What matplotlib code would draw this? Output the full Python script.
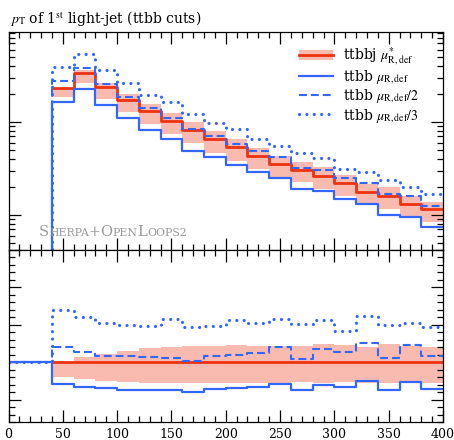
import numpy as np
import matplotlib
matplotlib.use("Agg")
import matplotlib.pyplot as plt
from matplotlib.lines import Line2D
from matplotlib.patches import Patch
from matplotlib.ticker import MultipleLocator, LogLocator, NullFormatter
from matplotlib.offsetbox import TextArea, HPacker, AnnotationBbox

plt.rcParams['font.family'] = ['DejaVu Serif']
plt.rcParams['mathtext.fontset'] = 'stix'

# pT bin edges (GeV), 20 GeV bins starting at 0
edges = np.arange(0, 420, 20)

# d(sigma)/dpT per bin; first two bins are empty
ttbbj_ref = [0, 0, 2.30, 3.39, 2.36, 1.73, 1.31, 1.03, 0.820, 0.652, 0.535,
             0.431, 0.353, 0.305, 0.262, 0.219, 0.178, 0.160, 0.131, 0.115]
ttbbj_lo = [0, 0, 1.84, 2.61, 1.77, 1.27, 0.950, 0.742, 0.590, 0.469, 0.385,
            0.312, 0.256, 0.224, 0.190, 0.161, 0.129, 0.116, 0.0963, 0.0834]
ttbbj_hi = [0, 0, 2.30, 3.63, 2.63, 1.99, 1.55, 1.24, 0.992, 0.795, 0.658,
            0.522, 0.431, 0.369, 0.325, 0.268, 0.214, 0.198, 0.160, 0.139]
ttbb_mu = [0, 0, 1.633, 2.271, 1.534, 1.090, 0.825, 0.649, 0.492, 0.417, 0.348,
           0.287, 0.251, 0.192, 0.182, 0.147, 0.132, 0.101, 0.0956, 0.0736]
ttbb_mu2 = [0, 0, 2.76, 3.83, 2.57, 1.87, 1.40, 1.09, 0.836, 0.704, 0.583,
            0.483, 0.424, 0.317, 0.307, 0.250, 0.223, 0.170, 0.161, 0.124]
ttbb_mu3 = [0, 0, 3.89, 5.42, 3.61, 2.60, 1.95, 1.62, 1.21, 0.965, 0.840,
            0.659, 0.558, 0.461, 0.411, 0.311, 0.287, 0.240, 0.199, 0.169]

x_ticks = [0, 50, 100, 150, 200, 250, 300, 350, 400]

RED = '#EE3311'
BLUE = '#3366FF'

ref = np.array(ttbbj_ref)
filled = ref > 0


def ratio(vals):
    vals = np.array(vals, dtype=float)
    out = np.ones_like(vals)
    out[filled] = vals[filled] / ref[filled]
    return out


def step_xy(e, vals):
    # outline of a histogram, from left edge to right edge
    xs = np.repeat(e, 2)[1:-1]
    ys = np.repeat(np.asarray(vals, dtype=float), 2)
    return xs, ys


fig = plt.figure(figsize=(4.54, 4.40), dpi=100)
W, H = 454.0, 440.0
x0, x1 = 8.5, 443.0
ax = fig.add_axes([x0 / W, 1 - 250 / H, (x1 - x0) / W, (250 - 32.3) / H])
axr = fig.add_axes([x0 / W, 1 - 422 / H, (x1 - x0) / W, (422 - 250) / H], sharex=ax)

blue_styles = [
    (ttbb_mu, dict(lw=1.6, ls='-')),
    (ttbb_mu2, dict(lw=1.5, ls=(0, (3.8, 1.9)))),
    (ttbb_mu3, dict(lw=2.3, ls=(0, (0.01, 2.3)), dash_capstyle='round')),
]

# main panel
e = edges[filled.nonzero()[0][0]:]
lo = np.array(ttbbj_lo)[filled]
hi = np.array(ttbbj_hi)[filled]
ax.stairs(hi, e, baseline=lo, fill=True, color=RED, alpha=0.33, lw=0)
ax.plot(*step_xy(e, ref[filled]), color=RED, lw=2.0)
for vals, st in blue_styles:
    ax.plot(*step_xy(edges, vals), color=BLUE, **st)

ax.set_yscale('log')
ax.set_xlim(0, 400)
ax.set_ylim(0.0420, 9.21)
ax.yaxis.set_major_locator(LogLocator(base=10))
ax.yaxis.set_minor_locator(LogLocator(base=10, subs=np.arange(2, 10)))
ax.yaxis.set_minor_formatter(NullFormatter())
ax.tick_params(labelbottom=False, labelleft=False)

# ratio panel
rb_lo = lo / ref[filled]
rb_hi = hi / ref[filled]
axr.stairs(rb_hi, e, baseline=rb_lo, fill=True, color=RED, alpha=0.33, lw=0)
axr.plot(*step_xy(e, np.ones(filled.sum())), color=RED, lw=2.0)
for vals, st in blue_styles:
    axr.plot(*step_xy(edges, ratio(vals)), color=BLUE, **st)

axr.set_ylim(0.2, 2.5)
axr.yaxis.set_major_locator(MultipleLocator(0.5))
axr.yaxis.set_minor_locator(MultipleLocator(0.1))
axr.set_xticks(x_ticks)
axr.xaxis.set_minor_locator(MultipleLocator(10))
axr.tick_params(labelleft=False, labelsize=9)

for a in (ax, axr):
    a.tick_params(which='both', direction='in', top=True, right=True, width=0.9)
    a.tick_params(which='major', length=8.8)
    a.tick_params(which='minor', length=4.3)
    for s in a.spines.values():
        s.set_linewidth(0.9)
axr.tick_params(axis='x', pad=4)

ax.set_title(r'$p_\mathrm{T}$ of 1$^\mathrm{st}$ light-jet (ttbb cuts)',
             loc='left', fontsize=10, pad=7, x=0.003)

# legend
h_ref = (Patch(facecolor=RED, alpha=0.33, lw=0), Line2D([], [], color=RED, lw=2.0))
handles = [h_ref] + [Line2D([], [], color=BLUE, **st) for _, st in blue_styles]
labels = [r'ttbbj $\mu^{*}_{\mathrm{R,def}}$', r'ttbb $\mu_{\mathrm{R,def}}$',
          r'ttbb $\mu_{\mathrm{R,def}}/2$', r'ttbb $\mu_{\mathrm{R,def}}/3$']
ax.legend(handles, labels, loc='upper right', frameon=False, fontsize=10,
          handlelength=2.4, handletextpad=0.72, labelspacing=0.12,
          borderaxespad=0, borderpad=0, bbox_to_anchor=(0.945, 0.94))

# generator tag in small caps
gray = '#999999'
parts = [('S', 10.5), ('HERPA', 7.8), ('+', 10), ('O', 10.5), ('PEN', 7.8),
         ('L', 10.5), ('OOPS2', 7.8)]
tag = HPacker(children=[TextArea(t, textprops=dict(color=gray, size=s)) for t, s in parts],
              align='baseline', pad=0, sep=0)
ax.add_artist(AnnotationBbox(tag, (0.07, 0.05), xycoords='axes fraction',
                             box_alignment=(0, 0), frameon=False))

fig.savefig('out.png', dpi=100)
